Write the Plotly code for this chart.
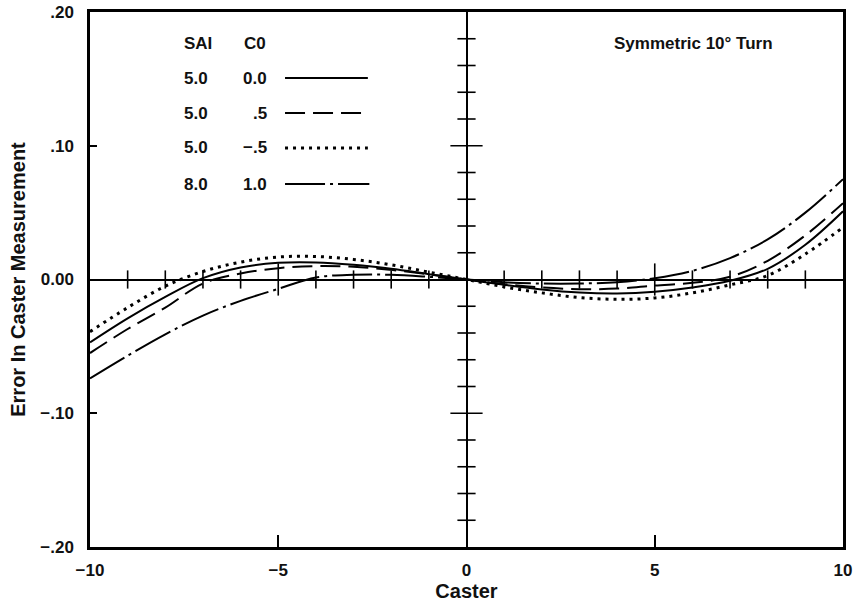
import plotly.graph_objects as go

# caster angle (deg)
caster = list(range(-10, 11))

err_sai5_c0 = [-0.047, -0.029, -0.013, 0.001, 0.009, 0.0125, 0.0128, 0.011, 0.008, 0.004, 0.0,
               -0.004, -0.0075, -0.0098, -0.0105, -0.0092, -0.006, -0.001, 0.008, 0.026, 0.051]
err_sai5_c05 = [-0.055, -0.037, -0.021, -0.003, 0.0045, 0.0085, 0.010, 0.0095, 0.0072, 0.0038, 0.0,
                -0.0035, -0.006, -0.0072, -0.0068, -0.0045, -0.0025, 0.002, 0.014, 0.033, 0.057]
err_sai5_cm05 = [-0.039, -0.021, -0.005, 0.006, 0.013, 0.0168, 0.0172, 0.015, 0.011, 0.0055, 0.0,
                 -0.0055, -0.010, -0.0135, -0.0148, -0.0138, -0.010, -0.004, 0.003, 0.019, 0.039]
err_sai8_c1 = [-0.074, -0.057, -0.041, -0.027, -0.016, -0.007, 0.0015, 0.0035, 0.0035, 0.002, 0.0,
               -0.002, -0.003, -0.003, -0.002, 0.001, 0.0065, 0.016, 0.030, 0.050, 0.075]

sai_labels = ["5.0", "5.0", "5.0", "8.0"]
c0_labels = ["0.0", ".5", "\u2212.5", "1.0"]
dashes = ["solid", "20px,8px", "3px,5px", "40px,5px,3px,5px"]
widths = [2, 2, 3, 2]

x_ticks = [-10, -5, 0, 5, 10]
x_ticktext = ["\u221210", "\u22125", "0", "5", "10"]
y_ticks = [-0.2, -0.1, 0.0, 0.1, 0.2]
y_ticktext = ["\u2212.20", "\u2212.10", "0.00", ".10", ".20"]

# crossing ticks on the centre axes
x_minor = [v for v in range(-9, 10) if v not in (-5, 0, 5)]
x_major = [-5, 5]
y_minor = [round(-0.18 + 0.02 * i, 2) for i in range(19)]
y_minor = [v for v in y_minor if abs(v) > 1e-9 and abs(abs(v) - 0.1) > 1e-9]
y_major = [-0.1, 0.1]

FONT = "Liberation Sans, Arial, sans-serif"

fig = go.Figure()

series = [err_sai5_c0, err_sai5_c05, err_sai5_cm05, err_sai8_c1]
for ys, dash, w, s, c in zip(series, dashes, widths, sai_labels, c0_labels):
    fig.add_trace(go.Scatter(
        x=caster, y=ys, mode="lines",
        line=dict(color="black", width=w, dash=dash, shape="spline"),
        name=f"{s} {c}", showlegend=False
    ))

tick_style = dict(color="black", width=1.6)
fig.add_trace(go.Scatter(x=x_minor, y=[0] * len(x_minor), mode="markers", showlegend=False,
                         marker=dict(symbol="line-ns", size=13, line=tick_style), hoverinfo="skip"))
fig.add_trace(go.Scatter(x=x_major, y=[0] * len(x_major), mode="markers", showlegend=False,
                         marker=dict(symbol="line-ns", size=23, line=tick_style), hoverinfo="skip"))
fig.add_trace(go.Scatter(x=[0] * len(y_minor), y=y_minor, mode="markers", showlegend=False,
                         marker=dict(symbol="line-ew", size=13, line=tick_style), hoverinfo="skip"))
fig.add_trace(go.Scatter(x=[0] * len(y_major), y=y_major, mode="markers", showlegend=False,
                         marker=dict(symbol="line-ew", size=23, line=tick_style), hoverinfo="skip"))

# hand-drawn style key inside the plot
fig.add_annotation(x=0.122, y=0.942, xref="paper", yref="paper", text="SAI",
                   showarrow=False, xanchor="left", yanchor="middle")
fig.add_annotation(x=0.236, y=0.942, xref="paper", yref="paper", text="C0",
                   showarrow=False, xanchor="right", yanchor="middle")
row_y = [0.8766, 0.8112, 0.7458, 0.6785]
for ry, s, c, dash, w in zip(row_y, sai_labels, c0_labels, dashes, widths):
    fig.add_annotation(x=0.122, y=ry, xref="paper", yref="paper", text=s,
                       showarrow=False, xanchor="left", yanchor="middle")
    fig.add_annotation(x=0.238, y=ry, xref="paper", yref="paper", text=c,
                       showarrow=False, xanchor="right", yanchor="middle")
    fig.add_shape(type="line", xref="paper", yref="paper", x0=0.259, x1=0.371 if dash.startswith("40") else 0.369,
                  y0=ry, y1=ry, line=dict(color="black", width=w, dash=dash))

fig.add_annotation(x=0.693, y=0.942, xref="paper", yref="paper", text="Symmetric 10\u00b0 Turn",
                   showarrow=False, xanchor="left", yanchor="middle")

fig.update_xaxes(
    range=[-10, 10], tickvals=x_ticks, ticktext=x_ticktext, ticks="inside", ticklen=12,
    tickwidth=1.6, tickcolor="black", showgrid=False, showline=True, linecolor="black",
    linewidth=2.5, mirror=True, zeroline=True, zerolinecolor="black", zerolinewidth=2,
    ticklabelstandoff=6, automargin=False, title=dict(text="Caster", standoff=6)
)
fig.update_yaxes(
    range=[-0.2, 0.2], tickvals=y_ticks, ticktext=y_ticktext, ticks="inside", ticklen=7,
    tickwidth=1.6, tickcolor="black", showgrid=False, showline=True, linecolor="black",
    linewidth=2.5, mirror=True, zeroline=True, zerolinecolor="black", zerolinewidth=2,
    ticklabelstandoff=10, automargin=False, title=dict(text="Error In Caster Measurement", standoff=10)
)

fig.update_layout(
    width=856, height=602,
    margin=dict(l=90, r=13, t=12, b=55),
    plot_bgcolor="white", paper_bgcolor="white",
    font=dict(family=FONT, size=17, color="#111", weight="bold"),
    showlegend=False
)

# drop the browser's default body margin so the figure sits at the window's corner
fig.write_html("out.html", config={"displayModeBar": False},
               post_script="document.body.style.margin = '0';")
